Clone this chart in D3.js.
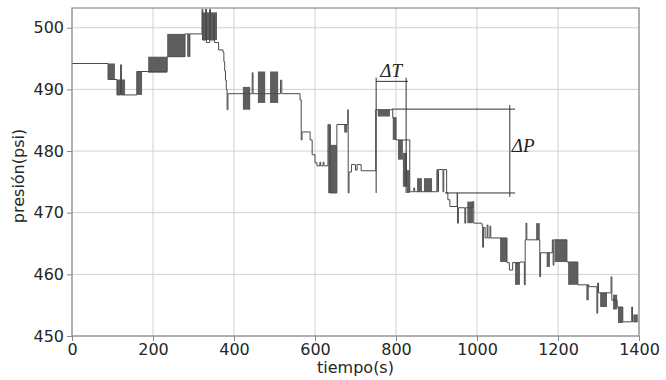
<!DOCTYPE html>
<html><head><meta charset="utf-8">
<script src="https://cdn.jsdelivr.net/npm/d3@7"></script>
<style>
body{margin:0;background:#fff}
svg{display:block}
text{font-family:"DejaVu Sans",sans-serif}
</style>
</head><body>
<svg id="chart" width="666" height="380"></svg>
<script>
// ---- data ----
const xTicks = [0, 200, 400, 600, 800, 1000, 1200, 1400];
const yTicks = [450, 460, 470, 480, 490, 500];
const xLabel = "tiempo(s)";
const yLabel = "presión(psi)";

// pressure steps: [time (s), new pressure (psi)]
const pressure = [
  [0, 494.2], [89, 491.6], [111, 489.1], [120, 494.0], [122, 489.1], [160, 492.9],
  [188, 492.9], [235, 495.3], [279, 499.0], [286, 495.3], [287, 499.0], [290, 495.3], [291, 499.0],
  [321, 503.0], [323, 498.0], [330, 503.0], [332, 497.6], [340, 503.0], [342, 498.0], [350, 502.0], [352, 497.6],
  [358, 497.6], [362, 496.4], [373, 496.0], [375, 494.5], [377, 493.0], [379, 491.5], [381, 490.0],
  [383, 486.7], [385, 489.3], [440, 489.3], [445, 492.7], [447, 489.3], [509, 489.3], [515, 491.5],
  [518, 489.3], [563, 488.3], [566, 481.8], [568, 483.1], [588, 481.8], [593, 479.4], [600, 478.1],
  [605, 477.6], [612, 478.2], [614, 477.6], [620, 478.2], [622, 477.6], [632, 484.3], [634, 473.2],
  [636, 484.3], [638, 473.2], [654, 484.3], [681, 486.7], [682, 473.2], [684, 476.6], [690, 477.8],
  [700, 476.9], [704, 477.8], [714, 476.8], [750, 486.7], [792, 485.4], [800, 481.8], [834, 473.4],
  [844, 474.0], [846, 473.4], [901, 477.0], [903, 473.4], [905, 477.0], [916, 473.4], [918, 477.0],
  [925, 473.2], [928, 472.1], [933, 471.0], [951, 473.2], [952, 468.3], [954, 470.8], [970, 468.3],
  [972, 470.8], [990, 471.8], [992, 468.3], [1012, 468.0], [1014, 464.4], [1016, 467.6], [1020, 465.9],
  [1025, 468.0], [1027, 465.9], [1032, 467.8], [1034, 465.9], [1074, 461.9], [1080, 460.7], [1088, 461.9],
  [1106, 462.0], [1117, 458.3], [1119, 465.6], [1121, 468.3], [1123, 465.6], [1155, 459.6], [1157, 463.5],
  [1180, 463.5], [1186, 465.6], [1188, 461.5], [1190, 465.6], [1222, 462.0], [1249, 458.3], [1276, 458.0],
  [1296, 453.7], [1298, 458.6], [1300, 457.0], [1321, 457.0], [1331, 459.6], [1333, 455.8], [1346, 454.7],
  [1360, 452.3], [1382, 454.7], [1384, 452.3], [1397, 452.3]
];

// rapid-oscillation bands: [t start, t end, p low, p high]
const bands = [
  [89, 106, 491.6, 494.2], [111, 131, 489.1, 491.6], [160, 173, 489.1, 492.9],
  [188, 235, 492.7, 495.3], [235, 279, 495.3, 499.0], [321, 358, 498.0, 502.5],
  [422, 440, 486.7, 490.4], [459, 477, 487.8, 492.9], [489, 509, 487.8, 492.9],
  [638, 654, 473.2, 481.0], [672, 680, 483.0, 484.3], [755, 785, 485.6, 486.7],
  [792, 800, 481.8, 485.4], [805, 817, 478.6, 481.8], [817, 827, 474.2, 479.7],
  [827, 834, 473.2, 476.9], [852, 864, 473.4, 475.6], [869, 889, 473.4, 475.6],
  [976, 990, 468.3, 471.8], [1057, 1074, 462.0, 465.9], [1094, 1106, 458.3, 462.0],
  [1146, 1155, 465.6, 468.3], [1172, 1180, 461.2, 463.5], [1192, 1222, 462.0, 465.6],
  [1225, 1249, 458.3, 462.0], [1270, 1276, 455.8, 458.3], [1304, 1321, 454.7, 457.0],
  [1336, 1346, 454.3, 456.7], [1348, 1360, 452.1, 454.7], [1386, 1397, 452.3, 453.5]
];

// annotations
const deltaT = { label: "ΔT", t0: 751, t1: 825, p: 491.3, pTop: 491.9, pBottom: 473.2 };
const deltaP = { label: "ΔP", t: 1081, tTopStart: 790, tBottomStart: 921, tEnd: 1094, pTop: 486.8, pBottom: 473.2 };

// ---- drawing ----
const svg = d3.select("#chart");
const L = 72, R = 639, T = 8, B = 336;
const x = d3.scaleLinear().domain([0, 1400]).range([L, R]);
const y = d3.scaleLinear().domain([450, 503.2]).range([B, T]);

// grid
const g = svg.append("g");
g.selectAll("line.vx").data(xTicks).join("line")
  .attr("x1", d => x(d)).attr("x2", d => x(d)).attr("y1", T).attr("y2", B)
  .attr("stroke", "#d0d0d0").attr("stroke-width", 1);
g.selectAll("line.hy").data(yTicks).join("line")
  .attr("x1", L).attr("x2", R).attr("y1", d => y(d)).attr("y2", d => y(d))
  .attr("stroke", "#d0d0d0").attr("stroke-width", 1);

// clip
svg.append("clipPath").attr("id", "clip").append("rect")
  .attr("x", L).attr("y", T).attr("width", R - L).attr("height", B - T);
const plot = svg.append("g").attr("clip-path", "url(#clip)");

plot.selectAll("rect.band").data(bands).join("rect")
  .attr("x", d => x(d[0])).attr("width", d => x(d[1]) - x(d[0]))
  .attr("y", d => y(d[3])).attr("height", d => y(d[2]) - y(d[3]))
  .attr("fill", "#5e5e5e");

const line = d3.line().x(d => x(d[0])).y(d => y(d[1])).curve(d3.curveStepAfter);
plot.append("path").datum(pressure).attr("d", line)
  .attr("fill", "none").attr("stroke", "#4a4a4a").attr("stroke-width", 1);

// annotations
const ann = svg.append("g").attr("stroke", "#333").attr("stroke-width", 1).attr("fill", "none");
ann.append("line").attr("x1", x(deltaT.t0)).attr("x2", x(deltaT.t1) + 2)
  .attr("y1", y(deltaT.p)).attr("y2", y(deltaT.p));
[deltaT.t0, deltaT.t1].forEach(t => {
  ann.append("line").attr("x1", x(t)).attr("x2", x(t))
    .attr("y1", y(deltaT.pTop)).attr("y2", y(deltaT.pBottom));
});
ann.append("line").attr("x1", x(deltaP.tTopStart)).attr("x2", x(deltaP.tEnd))
  .attr("y1", y(deltaP.pTop)).attr("y2", y(deltaP.pTop));
ann.append("line").attr("x1", x(deltaP.tBottomStart)).attr("x2", x(deltaP.tEnd))
  .attr("y1", y(deltaP.pBottom)).attr("y2", y(deltaP.pBottom));
ann.append("line").attr("x1", x(deltaP.t)).attr("x2", x(deltaP.t))
  .attr("y1", y(deltaP.pTop) - 4).attr("y2", y(deltaP.pBottom) + 4);

svg.append("text").text(deltaT.label)
  .attr("x", (x(deltaT.t0) + x(deltaT.t1)) / 2).attr("y", y(deltaT.p) - 4)
  .attr("text-anchor", "middle")
  .style("font-family", "'Liberation Serif', serif").style("font-style", "italic")
  .style("font-size", "19px").attr("fill", "#222");
svg.append("text").text(deltaP.label)
  .attr("x", x(deltaP.t) + 2).attr("y", (y(deltaP.pTop) + y(deltaP.pBottom)) / 2 + 1)
  .attr("text-anchor", "start")
  .style("font-family", "'Liberation Serif', serif").style("font-style", "italic")
  .style("font-size", "19px").attr("fill", "#222");

// frame
svg.append("rect").attr("x", L).attr("y", T).attr("width", R - L).attr("height", B - T)
  .attr("fill", "none").attr("stroke", "#8a8a8a").attr("stroke-width", 1.2);

// axes
const ax = svg.append("g").attr("transform", `translate(0,${B})`)
  .call(d3.axisBottom(x).tickValues(xTicks).tickSize(5).tickPadding(3).tickFormat(d3.format("d")));
const ay = svg.append("g").attr("transform", `translate(${L},0)`)
  .call(d3.axisLeft(y).tickValues(yTicks).tickSize(5).tickPadding(3).tickFormat(d3.format("d")));
[ax, ay].forEach(a => {
  a.select(".domain").remove();
  a.selectAll(".tick line").attr("stroke", "#8a8a8a");
  a.selectAll(".tick text").attr("fill", "#262626").style("font-size", "16px")
    .style("font-family", "'DejaVu Sans', sans-serif");
});

svg.append("text").text(xLabel).attr("x", (L + R) / 2).attr("y", 373)
  .attr("text-anchor", "middle").attr("fill", "#262626").style("font-size", "16px");
svg.append("text").text(yLabel)
  .attr("transform", `translate(24,${(T + B) / 2 + 4}) rotate(-90)`)
  .attr("text-anchor", "middle").attr("fill", "#262626").style("font-size", "16px");
</script>
</body></html>
